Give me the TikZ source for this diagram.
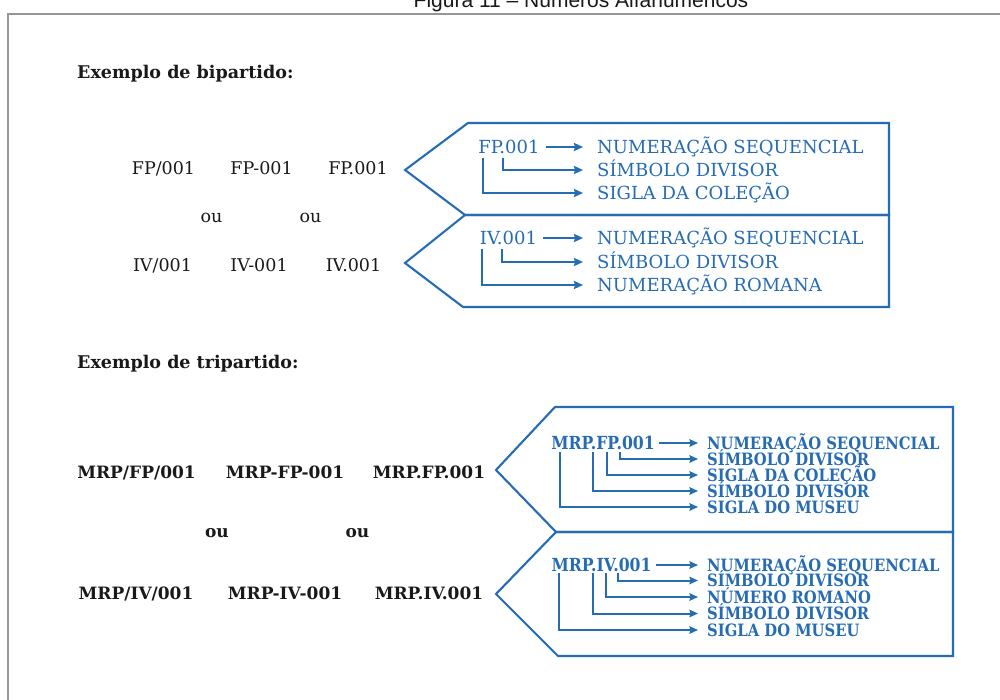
\documentclass[tikz,border=0pt]{standalone}
\usepackage{fontspec}
\setmainfont{DejaVu Serif}
\newfontfamily\titlefont{Liberation Sans}
\newfontfamily\condserif[FakeStretch=0.87]{DejaVu Serif}
\usetikzlibrary{arrows.meta}
\definecolor{myblue}{RGB}{38,108,180}
\definecolor{ink}{RGB}{25,25,25}
\definecolor{framegray}{RGB}{150,150,150}
\tikzset{
  blk/.style={font=\fontsize{17.5}{20}\selectfont, text=ink, inner sep=0pt, text height=13pt, text depth=0pt},
  blkou/.style={blk, text height=9.5pt},
  blkb/.style={blk, font=\bfseries\fontsize{17}{20}\selectfont},
  blkbou/.style={blkb, text height=9.5pt},
  head/.style={blk, font=\bfseries\fontsize{17.5}{20}\selectfont, anchor=west},
  bcode/.style={font=\fontsize{18}{20}\selectfont, text=myblue, inner sep=0pt, text height=13pt, text depth=0pt},
  blab/.style={bcode, anchor=west},
  tcode/.style={bcode, font=\condserif\bfseries\fontsize{18}{20}\selectfont, text height=13pt},
  tlab/.style={bcode, font=\condserif\bfseries\fontsize{17}{18}\selectfont, text height=12pt, anchor=west},
  bbox/.style={draw=myblue, line width=2.1pt, line join=miter},
  conn/.style={draw=myblue, line width=2.1pt, -{Stealth[length=9pt,width=8pt,inset=1pt]}},
  tconn/.style={draw=myblue, line width=2pt, -{Stealth[length=8.5pt,width=7.5pt,inset=1pt]}},
}
\begin{document}
\begin{tikzpicture}[x=1pt,y=-1pt]
\useasboundingbox (0,0) rectangle (1000,700);
\clip (0,0) rectangle (1000,700);
\fill[white] (0,0) rectangle (1000,700);
% clipped title
\node[font=\titlefont\fontsize{21}{24}\selectfont, anchor=base, inner sep=0pt, text=ink] (title) at (581,8) {Figura 11 – Números Alfanuméricos};
% frame
\draw[framegray, line width=2pt] (1010,14) -- (8,14) -- (8,710);

% ---------------- bipartido ----------------
\node[head] (h1) at (77,72) {Exemplo de bipartido:};
\node[blk] (b11) at (163.5,168) {FP/001};
\node[blk] (b12) at (261.5,168) {FP-001};
\node[blk] (b13) at (358,168) {FP.001};
\node[blkou] (o11) at (211.5,218) {ou};
\node[blkou] (o12) at (310.5,218) {ou};
\node[blk] (b21) at (162.5,265) {IV/001};
\node[blk] (b22) at (259,265) {IV-001};
\node[blk] (b23) at (353.5,265) {IV.001};

\draw[bbox] (468,123) -- (889,123) -- (889,215) -- (465,215) -- (405,170) -- cycle;
\draw[bbox] (465,215) -- (889,215) -- (889,307) -- (463,307) -- (405,263) -- cycle;

\node[bcode] (c1) at (509,147) {FP.001};
\node[blab] (l11) at (597,147) {NUMERAÇÃO SEQUENCIAL};
\node[blab] (l12) at (597,170) {SÍMBOLO DIVISOR};
\node[blab] (l13) at (597,193) {SIGLA DA COLEÇÃO};
\coordinate (v11) at (503,158);
\coordinate (v12) at (483,158);
\draw[conn] ([xshift=6pt]c1.east) -- ([xshift=-14pt]l11.west);
\draw[conn] (v11) |- ([xshift=-14pt]l12.west);
\draw[conn] (v12) |- ([xshift=-14pt]l13.west);

\node[bcode] (c2) at (508.5,238) {IV.001};
\node[blab] (l21) at (597,238) {NUMERAÇÃO SEQUENCIAL};
\node[blab] (l22) at (597,262) {SÍMBOLO DIVISOR};
\node[blab] (l23) at (597,285) {NUMERAÇÃO ROMANA};
\coordinate (v21) at (502,249);
\coordinate (v22) at (482,249);
\draw[conn] ([xshift=6pt]c2.east) -- ([xshift=-14pt]l21.west);
\draw[conn] (v21) |- ([xshift=-14pt]l22.west);
\draw[conn] (v22) |- ([xshift=-14pt]l23.west);

% ---------------- tripartido ----------------
\node[head] (h2) at (77,362) {Exemplo de tripartido:};
\node[blkb] (t11) at (136.5,472) {MRP/FP/001};
\node[blkb] (t12) at (285,472) {MRP-FP-001};
\node[blkb] (t13) at (429,472) {MRP.FP.001};
\node[blkbou] (o21) at (217,533) {ou};
\node[blkbou] (o22) at (357.5,533) {ou};
\node[blkb] (t21) at (136,593) {MRP/IV/001};
\node[blkb] (t22) at (285,593) {MRP-IV-001};
\node[blkb] (t23) at (429,593) {MRP.IV.001};

\draw[bbox] (555,407) -- (953,407) -- (953,532) -- (556,532) -- (496,470) -- cycle;
\draw[bbox] (556,532) -- (953,532) -- (953,656) -- (558,656) -- (496,594) -- cycle;

\node[tcode] (c3) at (603,443) {MRP.FP.001};
\node[tlab] (m11) at (707,443) {NUMERAÇÃO SEQUENCIAL};
\node[tlab] (m12) at (707,459) {SÍMBOLO DIVISOR};
\node[tlab] (m13) at (707,475) {SIGLA DA COLEÇÃO};
\node[tlab] (m14) at (707,491) {SÍMBOLO DIVISOR};
\node[tlab] (m15) at (707,507) {SIGLA DO MUSEU};
\coordinate (w12) at (620,452);
\coordinate (w13) at (607,452);
\coordinate (w14) at (593,452);
\coordinate (w15) at (560,452);
\draw[tconn] ([xshift=4pt]c3.east) -- ([xshift=-9pt]m11.west);
\draw[tconn] (w12) |- ([xshift=-9pt]m12.west);
\draw[tconn] (w13) |- ([xshift=-9pt]m13.west);
\draw[tconn] (w14) |- ([xshift=-9pt]m14.west);
\draw[tconn] (w15) |- ([xshift=-9pt]m15.west);

\node[tcode] (c4) at (601.5,565) {MRP.IV.001};
\node[tlab] (n11) at (707,565) {NUMERAÇÃO SEQUENCIAL};
\node[tlab] (n12) at (707,580.5) {SÍMBOLO DIVISOR};
\node[tlab] (n13) at (707,597) {NÚMERO ROMANO};
\node[tlab] (n14) at (707,613.5) {SÍMBOLO DIVISOR};
\node[tlab] (n15) at (707,630) {SIGLA DO MUSEU};
\coordinate (x12) at (618,573);
\coordinate (x13) at (606,573);
\coordinate (x14) at (593,573);
\coordinate (x15) at (559,573);
\draw[tconn] ([xshift=4pt]c4.east) -- ([xshift=-9pt]n11.west);
\draw[tconn] (x12) |- ([xshift=-9pt]n12.west);
\draw[tconn] (x13) |- ([xshift=-9pt]n13.west);
\draw[tconn] (x14) |- ([xshift=-9pt]n14.west);
\draw[tconn] (x15) |- ([xshift=-9pt]n15.west);
\end{tikzpicture}
\end{document}
